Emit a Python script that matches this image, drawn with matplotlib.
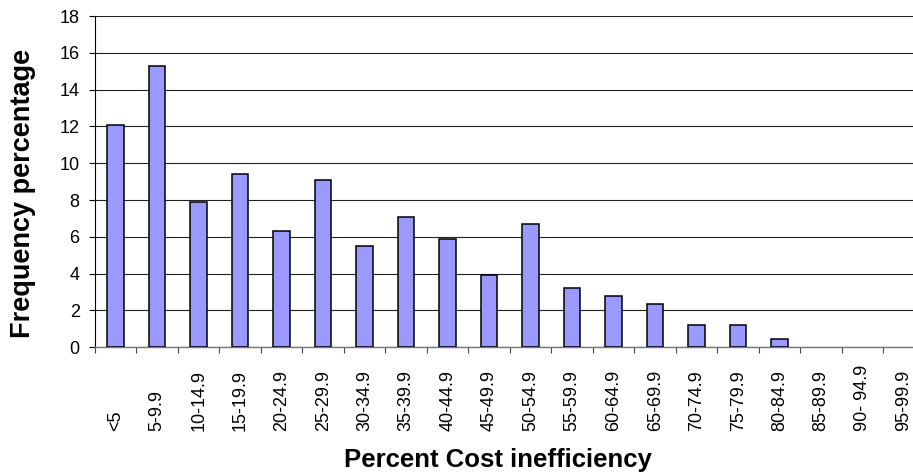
import matplotlib.pyplot as plt
import numpy as np

plt.rcParams['font.family'] = ['Liberation Sans', 'DejaVu Sans']

categories = ["<5", "5-9.9", "10-14.9", "15-19.9", "20-24.9", "25-29.9",
              "30-34.9", "35-39.9", "40-44.9", "45-49.9", "50-54.9", "55-59.9",
              "60-64.9", "65-69.9", "70-74.9", "75-79.9", "80-84.9", "85-89.9",
              "90- 94.9", "95-99.9"]
freq = [12.1, 15.3, 7.9, 9.4, 6.3, 9.1, 5.5, 7.1, 5.9, 3.9,
        6.7, 3.2, 2.8, 2.35, 1.2, 1.2, 0.45, 0, 0, 0]

fig = plt.figure(figsize=(9.13, 4.73), dpi=100)
# plot area runs slightly past the right edge, like the cropped original
ax = fig.add_axes([0.104, 0.266, 0.909, 0.700])

x = np.arange(len(categories))
edges = ["black" if v > 0 else "none" for v in freq]  # empty classes show nothing
ax.bar(x, freq, width=0.4, color="#9999FF", edgecolor=edges, linewidth=1.1, zorder=3)

ax.set_xlim(-0.5, len(categories) - 0.5)
ax.set_ylim(0, 18)
ax.set_yticks(range(0, 19, 2))
ax.yaxis.grid(True, color="#222222", linewidth=0.8)
ax.set_axisbelow(True)

# ticks sit between categories, labels centred under bars, bottom-aligned
ax.set_xticks(np.arange(-0.5, len(categories) + 0.5, 1.0))
ax.set_xticklabels([])
ax.set_xticks(x, minor=True)
ax.set_xticklabels(categories, minor=True, rotation=90, ha="center", va="bottom",
                   fontsize=13)
ax.tick_params(axis="x", which="minor", length=0, pad=60)
ax.tick_params(axis="x", which="major", length=4, width=0.8, color="#444444")
ax.tick_params(axis="y", length=4, width=0.8, labelsize=13, pad=7)

for s in ["top", "right"]:
    ax.spines[s].set_visible(False)
ax.spines["left"].set_linewidth(0.8)
ax.spines["bottom"].set_color("#777777")
ax.spines["bottom"].set_linewidth(1.0)

fig.text(0.545, 0.013, "Percent Cost inefficiency", ha="center", va="baseline",
         fontsize=18.5, fontweight="bold")
fig.text(0.025, 0.591, "Frequency percentage", ha="center", va="center",
         rotation=90, fontsize=19.5, fontweight="bold")

fig.savefig("out.png", dpi=100)
